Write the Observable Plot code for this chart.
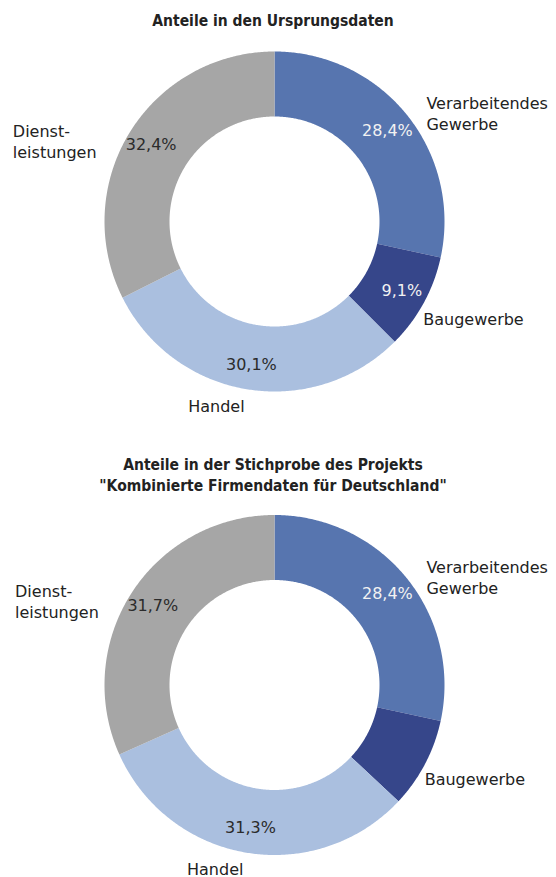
<!DOCTYPE html>
<html>
<head>
<meta charset="utf-8">
<script src="https://cdn.jsdelivr.net/npm/d3@7"></script>
<script src="https://cdn.jsdelivr.net/npm/@observablehq/plot@0.6"></script>
<style>
  html, body { margin: 0; padding: 0; background: #fff; }
  #page { position: relative; width: 556px; height: 877px; overflow: hidden; }
  .title { position: absolute; left: 0; width: 546px; text-align: center;
           font-family: "DejaVu Sans Condensed", "DejaVu Sans", sans-serif; font-weight: bold;
           font-size: 15.5px; line-height: 21px; color: #222; }
  .chart { position: absolute; left: 0; }
</style>
</head>
<body>
<div id="page">
  <div class="title" id="t1" style="top:11px"></div>
  <div class="chart" id="c1" style="top:32px"></div>
  <div class="title" id="t2" style="top:455px"></div>
  <div class="chart" id="c2" style="top:500px"></div>
</div>
<script>
// ---- data ----
const categories = ["Verarbeitendes Gewerbe", "Baugewerbe", "Handel", "Dienstleistungen"];
const categoryLabels = ["Verarbeitendes\nGewerbe", "Baugewerbe", "Handel", "Dienst-\nleistungen"];
const colors = ["#5775AF", "#36468A", "#AABFDF", "#A6A6A6"];
const originalShares = [28.4, 9.1, 30.1, 32.4];
const originalValueLabels = ["28,4%", "9,1%", "30,1%", "32,4%"];
const sampleShares = [28.4, 8.6, 31.3, 31.7];
const sampleValueLabels = ["28,4%", "", "31,3%", "31,7%"];
const title1 = "Anteile in den Ursprungsdaten";
const title2 = "Anteile in der Stichprobe des Projekts\n\"Kombinierte Firmendaten für Deutschland\"";

// ---- layout ----
const W = 556;
const R_OUT = 170, R_IN = 105, R_PCT = 145, R_CAT = 190;
const lightText = ["Verarbeitendes Gewerbe", "Baugewerbe"];
const nudge = {
  "Verarbeitendes Gewerbe": [4, -28],
  "Baugewerbe": [-18, -12],
  "Handel": [-56, -3],
  "Dienstleistungen": [-100, -36]
};

function donut(shares, valueLabels, H, cx, cy) {
  const total = d3.sum(shares);
  let acc = 0;
  const slices = categories.map((c, i) => {
    const a0 = acc / total * 2 * Math.PI;
    acc += shares[i];
    const a1 = acc / total * 2 * Math.PI;
    return {cat: c, a0, a1, mid: (a0 + a1) / 2, label: categoryLabels[i], value: valueLabels[i]};
  });
  const pts = [];
  for (const s of slices) {
    const n = Math.max(2, Math.ceil((s.a1 - s.a0) / (Math.PI / 360)));
    for (let k = 0; k <= n; k++) {
      const a = s.a0 + (s.a1 - s.a0) * k / n;
      pts.push({cat: s.cat, x: R_OUT * Math.sin(a), y: R_OUT * Math.cos(a)});
    }
    for (let k = n; k >= 0; k--) {
      const a = s.a0 + (s.a1 - s.a0) * k / n;
      pts.push({cat: s.cat, x: R_IN * Math.sin(a), y: R_IN * Math.cos(a)});
    }
  }
  const pct = slices.filter(s => s.value).map(s => ({
    cat: s.cat, text: s.value,
    x: R_PCT * Math.sin(s.mid), y: R_PCT * Math.cos(s.mid)
  }));
  const cats = slices.map(s => ({
    cat: s.cat, text: s.label,
    x: R_CAT * Math.sin(s.mid) + nudge[s.cat][0],
    y: R_CAT * Math.cos(s.mid) + nudge[s.cat][1]
  }));
  return Plot.plot({
    width: W, height: H, margin: 0,
    style: {fontFamily: "DejaVu Sans, sans-serif", background: "transparent", overflow: "visible"},
    x: {domain: [-cx, W - cx], axis: null},
    y: {domain: [cy - H, cy], axis: null},
    color: {domain: categories, range: colors},
    marks: [
      Plot.line(pts, {x: "x", y: "y", z: "cat", fill: "cat", stroke: null, curve: "linear-closed"}),
      Plot.text(pct.filter(d => lightText.includes(d.cat)), {x: "x", y: "y", text: "text", fill: "#F2F2F2", fontSize: 16, textAnchor: "middle", lineAnchor: "middle"}),
      Plot.text(pct.filter(d => !lightText.includes(d.cat)), {x: "x", y: "y", text: "text", fill: "#2B2B2B", fontSize: 16, textAnchor: "middle", lineAnchor: "middle"}),
      Plot.text(cats, {x: "x", y: "y", text: "text", fill: "#222222", fontSize: 16, textAnchor: "start", lineAnchor: "bottom", lineHeight: 1.3})
    ]
  });
}

document.getElementById("t1").textContent = title1;
document.getElementById("t2").innerHTML = title2.split("\n").map(s => s.replace(/&/g,"&amp;").replace(/</g,"&lt;")).join("<br>");
document.getElementById("c1").appendChild(donut(originalShares, originalValueLabels, 400, 274, 189));
document.getElementById("c2").appendChild(donut(sampleShares, sampleValueLabels, 377, 274, 184.5));
</script>
</body>
</html>
